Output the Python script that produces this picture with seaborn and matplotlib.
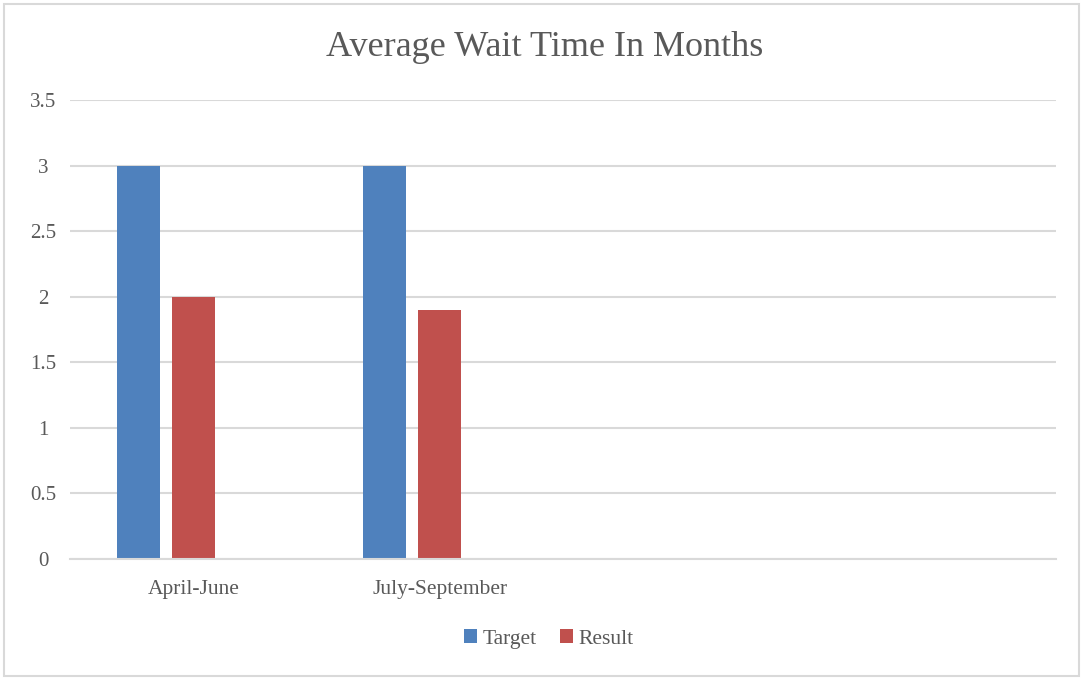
import pandas as pd
import numpy as np
import matplotlib.pyplot as plt
import seaborn as sns
from matplotlib.patches import Rectangle

categories = ['April-June', 'July-September', 'Q3', 'Q4']
tick_labels = ['April-June', 'July-September', '', '']
target = [3, 3, np.nan, np.nan]
result = [2, 1.9, np.nan, np.nan]
extra = [np.nan, np.nan, np.nan, np.nan]

df = pd.DataFrame({
    'Quarter': categories * 3,
    'Series': ['Target'] * 4 + ['Result'] * 4 + ['Extra'] * 4,
    'Months': target + result + extra,
})

sns.set_theme(style='white')
plt.rcParams['font.family'] = ['Liberation Serif', 'DejaVu Serif']

fig = plt.figure(figsize=(10.84, 6.79), dpi=100)
ax = fig.add_axes([70 / 1084, 120 / 679, 986 / 1084, 459 / 679])

sns.barplot(
    data=df, x='Quarter', y='Months', hue='Series',
    order=categories, hue_order=['Target', 'Result', 'Extra'],
    palette={'Target': '#4F81BD', 'Result': '#C0504D', 'Extra': '#9BBB59'},
    width=0.67, gap=0.22, errorbar=None, saturation=1, linewidth=0,
    ax=ax, legend=True
)

ax.set_ylim(0, 3.5)
ax.set_xlim(-0.5, 3.5)
ax.set_yticks(np.arange(0, 3.51, 0.5))
ax.set_yticklabels(['0', '0.5', '1', '1.5', '2', '2.5', '3', '3.5'])
ax.set_xticks(range(4))
ax.set_xticklabels(tick_labels)
ax.set_xlabel('')
ax.set_ylabel('')
ax.yaxis.grid(True, color='#d9d9d9', linewidth=1.5)
ax.set_axisbelow(True)
for s in ['top', 'right', 'left']:
    ax.spines[s].set_visible(False)
ax.spines['bottom'].set_color('#d9d9d9')
ax.spines['bottom'].set_linewidth(1.5)
ax.tick_params(axis='y', length=0, pad=0, labelsize=15, labelcolor='#595959')
ax.tick_params(axis='x', length=0, pad=15, labelsize=15.5, labelcolor='#595959')
for lbl in ax.get_yticklabels():
    lbl.set_horizontalalignment('center')
    lbl.set_x(-0.027)

handles, labels = ax.get_legend_handles_labels()
ax.legend(handles[:2], labels[:2], loc='center', bbox_to_anchor=(549 / 1084, 40 / 679),
          bbox_transform=fig.transFigure, ncol=2, frameon=False, fontsize=15.5,
          handlelength=0.6, handleheight=0.6, handletextpad=0.25, columnspacing=1.1,
          labelcolor='#595959')

fig.text(545 / 1084, 1 - 48 / 679, 'Average Wait Time In Months', ha='center', va='center',
         fontsize=26, color='#595959')

fig.patches.append(Rectangle((4 / 1084, 3 / 679), 1075 / 1084, 672 / 679,
                             transform=fig.transFigure, fill=False,
                             edgecolor='#d9d9d9', linewidth=1.5))

fig.savefig('out.png', dpi=100)
